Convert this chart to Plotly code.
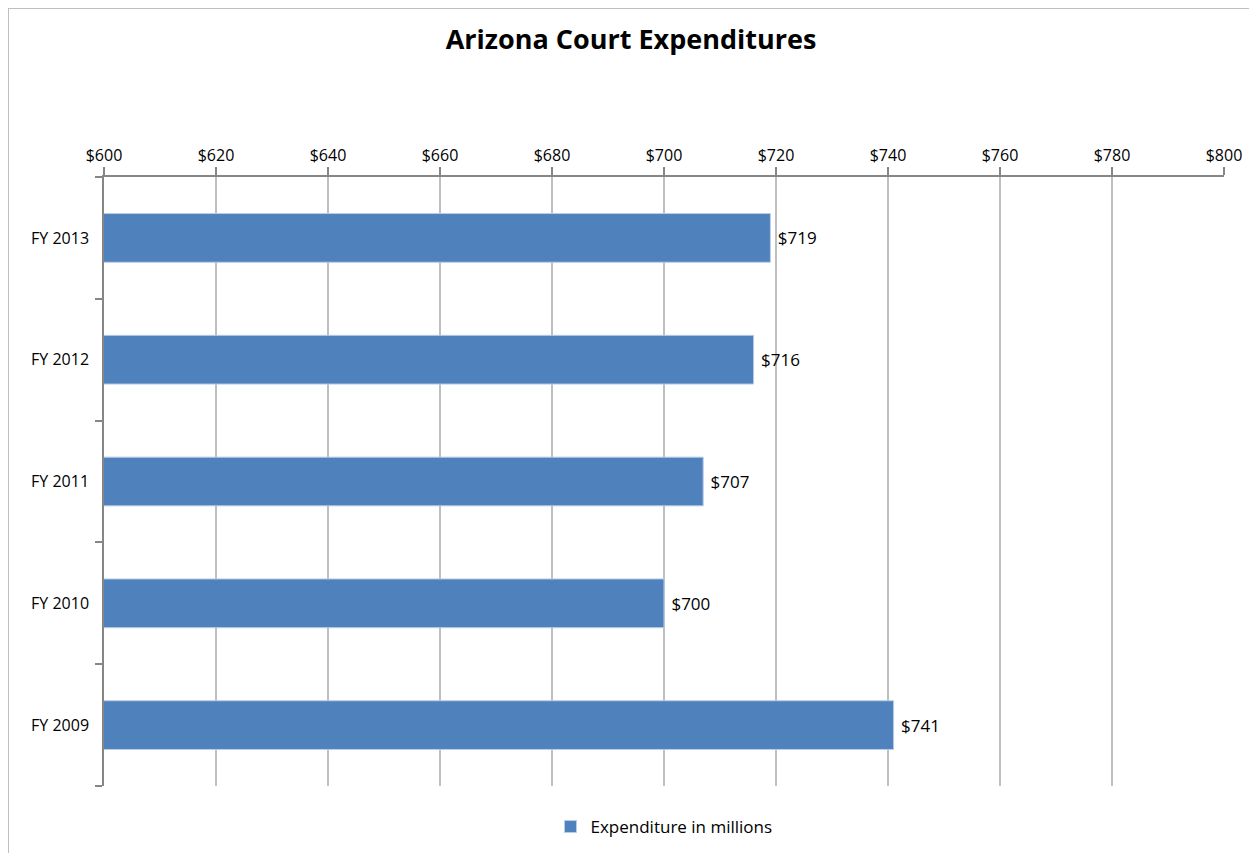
import plotly.graph_objects as go

categories = ["FY 2009", "FY 2010", "FY 2011", "FY 2012", "FY 2013"]
values = [741, 700, 707, 716, 719]
tick_vals = [600, 620, 640, 660, 680, 700, 720, 740, 760, 780, 800]
tick_text = ["$" + str(v) for v in tick_vals]
label_text = [" $" + str(v) for v in values]
series_name = "Expenditure in millions"

FONT = "'Open Sans', Lato, sans-serif"

# figure-space plot area (page adds ~8px body offset)
L, R, T, B = 96, 41, 169, 75
PW = 1257 - L - R
PH = 853 - T - B

fig = go.Figure()
fig.add_trace(go.Bar(
    y=categories, x=values, orientation="h", name=series_name,
    marker=dict(color="#4f81bd", line=dict(color="#b9cde5", width=1)),
    text=label_text, textposition="outside",
    textfont=dict(size=17, color="#000000", family=FONT),
    cliponaxis=False, hoverinfo="x+y",
))

fig.update_layout(
    width=1257, height=853,
    paper_bgcolor="white", plot_bgcolor="white",
    margin=dict(l=L, r=R, t=T, b=B),
    font=dict(family=FONT, color="#000000", size=16),
    title=dict(text="<b>Arizona Court Expenditures</b>", x=(631 - 8 - L) / PW,
               xref="paper", xanchor="center",
               y=1 - 32 / 853, yanchor="middle",
               font=dict(size=27, family=FONT, color="#000000")),
    bargap=0.6,
    showlegend=True,
    legend=dict(orientation="h", x=0.5, xanchor="center", y=-(827 - 786) / PH, yanchor="middle",
                font=dict(size=17, family=FONT), itemwidth=30),
    xaxis=dict(side="top", range=[600, 800], tickvals=tick_vals, ticktext=tick_text,
               showgrid=True, gridcolor="#bfbfbf", gridwidth=1.5,
               showline=True, linecolor="#868686", linewidth=1.5,
               ticks="outside", ticklen=8, tickcolor="#868686", tickwidth=1.5,
               tickfont=dict(size=16), zeroline=False, fixedrange=True),
    yaxis=dict(categoryorder="array", categoryarray=categories,
               showline=True, linecolor="#868686", linewidth=1.5,
               ticks="outside", ticklen=7, tickcolor="#868686", tickwidth=1.5,
               tickson="boundaries", showgrid=False, tickfont=dict(size=16),
               ticklabelstandoff=10, fixedrange=True),
)

# chart border
fig.add_shape(type="rect", xref="paper", yref="paper",
              x0=(0 - L) / PW, x1=(1262 - L) / PW,
              y0=-(B + 10) / PH, y1=1 + (T - 0) / PH,
              line=dict(color="#bfbfbf", width=2), layer="below")

fig.write_html("out.html")
